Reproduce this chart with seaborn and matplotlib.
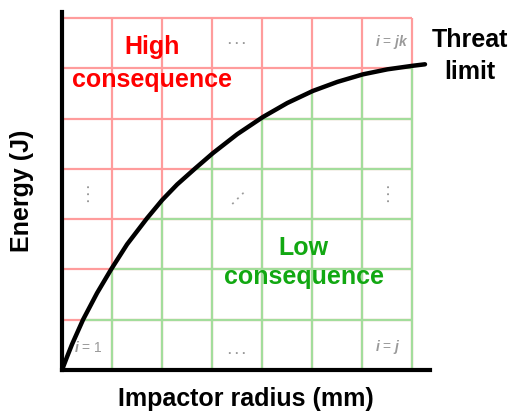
import numpy as np
import matplotlib
matplotlib.use("Agg")
import matplotlib.pyplot as plt
import seaborn as sns
from matplotlib.patches import Polygon

# threat limit curve (grid units)
curve_x = [0, 0.1, 0.2, 0.42, 0.7, 0.98, 1.3, 1.7, 2.0, 2.3, 2.65, 3.01, 3.5, 4.01,
           4.5, 5.01, 5.5, 6.01, 6.5, 7.0, 7.25]
curve_y = [0, 0.26, 0.51, 1.0, 1.53, 2.0, 2.5, 3.02, 3.38, 3.69, 4.0, 4.31, 4.69, 5.03,
           5.31, 5.55, 5.73, 5.88, 5.98, 6.05, 6.08]

n_cols = 7
n_rows = 7

RED_GRID = "#ff9c9c"
GREEN_GRID = "#a3dd9c"
GRAY = "#9a9a9a"

sns.set_theme(style="white")
plt.rcParams["font.family"] = ["Liberation Sans", "DejaVu Sans"]
plt.rcParams["mathtext.fontset"] = "custom"
plt.rcParams["mathtext.rm"] = "Liberation Sans:bold"
plt.rcParams["mathtext.it"] = "Liberation Sans:italic:bold"

fig = plt.figure(figsize=(5.09, 4.13), dpi=100)
ax = fig.add_axes([62 / 509, 43 / 413, 368 / 509, 358 / 413])
ax.set_xlim(0, 7.35)
ax.set_ylim(0, 7.12)

# grid: red everywhere, green clipped to the region under the curve
gx = np.arange(n_cols + 1)
gy = np.arange(n_rows + 1)
ax.vlines(gx[1:], 0, n_rows, color=RED_GRID, lw=1.6, zorder=1)
ax.hlines(gy[1:], 0, n_cols, color=RED_GRID, lw=1.6, zorder=1)

under = Polygon(list(zip(curve_x, curve_y)) + [(curve_x[-1], 0)], closed=True,
                facecolor="none", edgecolor="none", transform=ax.transData)
ax.add_patch(under)
gv = ax.vlines(gx[1:], 0, n_rows, color=GREEN_GRID, lw=1.6, zorder=2)
gh = ax.hlines(gy[1:], 0, n_cols, color=GREEN_GRID, lw=1.6, zorder=2)
gv.set_clip_path(under)
gh.set_clip_path(under)

sns.lineplot(x=curve_x, y=curve_y, ax=ax, color="black", lw=3.2, sort=False,
             zorder=5, solid_capstyle="round", solid_joinstyle="round")

for side in ["top", "right"]:
    ax.spines[side].set_visible(False)
for side in ["left", "bottom"]:
    ax.spines[side].set_color("black")
    ax.spines[side].set_linewidth(3)
    ax.spines[side].set_zorder(6)
ax.set_xticks([])
ax.set_yticks([])

ax.set_xlabel("Impactor radius (mm)", fontsize=18, fontweight="bold", labelpad=12, color="black")
ax.set_ylabel("Energy (J)", fontsize=18, fontweight="bold", labelpad=20, color="black")

# region labels (one text per line)
big = dict(fontsize=18, fontweight="bold", ha="center", va="center")
ax.text(1.80, 6.42, "High", color="#ff0000", **big)
ax.text(1.80, 5.77, "consequence", color="#ff0000", **big)
ax.text(4.83, 2.43, "Low", color="#12a812", **big)
ax.text(4.83, 1.85, "consequence", color="#12a812", **big)
ax.text(8.14, 6.56, "Threat", color="black", clip_on=False, **big)
ax.text(8.14, 5.92, "limit", color="black", clip_on=False, **big)

# cell index annotations
small = dict(color=GRAY, fontsize=10, ha="center", va="center")
ax.text(0.53, 0.45, r"$i$ = 1", **small)
ax.text(6.5, 0.45, r"$i$ = $j$", **small)
ax.text(6.58, 6.52, r"$i$ = $jk$", **small)
dots = dict(color=GRAY, fontsize=9, fontweight="bold", ha="center", va="center")
ax.text(3.5, 6.55, ". . .", **dots)
ax.text(3.5, 0.38, ". . .", **dots)
ax.text(0.5, 3.52, ". . .", rotation=90, **dots)
ax.text(6.5, 3.52, ". . .", rotation=90, **dots)
ax.text(3.5, 3.45, ". . .", rotation=45, **dots)

fig.savefig("out.png", dpi=100)
